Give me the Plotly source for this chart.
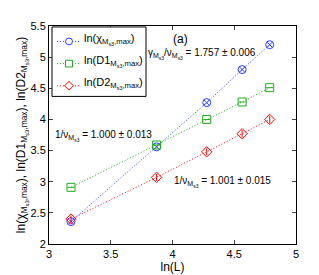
import plotly.graph_objects as go

lnL = [3.178, 3.871, 4.277, 4.564, 4.787]
chi = [2.36, 3.56, 4.27, 4.80, 5.20]
d1 = [2.91, 3.59, 4.00, 4.28, 4.51]
d2 = [2.40, 3.07, 3.48, 3.77, 4.00]

names = ["ln(χ<sub>M<sub>s3</sub>,max</sub>)",
         "ln(D1<sub>M<sub>s3</sub>,max</sub>)",
         "ln(D2<sub>M<sub>s3</sub>,max</sub>)"]
colors = ["rgb(40,60,255)", "rgb(30,170,30)", "rgb(255,0,0)"]
symbols = ["circle-open", "square-open", "diamond-open"]
inners = ["x-thin-open", "line-ew-open", "line-ns-open"]
values = [chi, d1, d2]

W, H = 319, 275
ML, MR, MT, MB = 41, 31, 16, 33
PW, PH = W - ML - MR, H - MT - MB

fig = go.Figure()
for name, ys, col, sym, inner in zip(names, values, colors, symbols, inners):
    fig.add_trace(go.Scatter(x=lnL, y=ys, mode="lines+markers", name=name, showlegend=False,
                             line=dict(color=col, width=1, dash="1px,2px"),
                             marker=dict(symbol=sym, size=8, color=col, line=dict(width=1, color=col))))
    fig.add_trace(go.Scatter(x=lnL, y=ys, mode="markers", showlegend=False, hoverinfo="skip",
                             marker=dict(symbol=inner, size=5, color=col, line=dict(width=1, color=col))))

# manual legend (pixel positions converted to paper coords)
def px(xp):
    return (xp - ML) / PW
def py(yp):
    return (H - MB - yp) / PH

fig.add_shape(type="rect", xref="paper", yref="paper", x0=px(44), x1=px(138), y0=py(89), y1=py(17),
              line=dict(color="black", width=1), fillcolor="white", layer="above")
leg_y = [32, 55, 78]
r = 3.5
for i, (name, col) in enumerate(zip(names, colors)):
    yc = leg_y[i]
    fig.add_shape(type="line", xref="paper", yref="paper", x0=px(49), x1=px(73), y0=py(yc), y1=py(yc),
                  line=dict(color=col, width=1, dash="1px,2px"), layer="above")
    if i == 0:
        fig.add_shape(type="circle", xref="paper", yref="paper", x0=px(61 - r), x1=px(61 + r),
                      y0=py(yc + r), y1=py(yc - r), line=dict(color=col, width=1), fillcolor="white", layer="above")
    elif i == 1:
        fig.add_shape(type="rect", xref="paper", yref="paper", x0=px(61 - r), x1=px(61 + r),
                      y0=py(yc + r), y1=py(yc - r), line=dict(color=col, width=1), fillcolor="white", layer="above")
    else:
        d = 4.5
        path = (f"M {px(61 - d)} {py(yc)} L {px(61)} {py(yc - d)} L {px(61 + d)} {py(yc)} "
                f"L {px(61)} {py(yc + d)} Z")
        fig.add_shape(type="path", xref="paper", yref="paper", path=path,
                      line=dict(color=col, width=1), fillcolor="white", layer="above")
    fig.add_annotation(x=px(74), y=py(yc - 2), xref="paper", yref="paper", text=name, showarrow=False,
                       xanchor="left", yanchor="middle",
                       font=dict(family="Liberation Sans, Arial, sans-serif", size=11, color="black"))

font = dict(family="Liberation Sans, Arial, sans-serif", size=11, color="black")
fig.update_layout(
    width=W, height=H,
    margin=dict(l=ML, r=MR, t=MT, b=MB),
    paper_bgcolor="white", plot_bgcolor="white",
    font=font,
    showlegend=False,
    xaxis=dict(range=[3, 5], dtick=0.5, ticks="inside", ticklen=4, showgrid=False,
               zeroline=False, showline=True, linecolor="black", linewidth=1, mirror="ticks",
               title=dict(text="ln(L)", standoff=2, font=dict(size=12)), tickfont=dict(size=11)),
    yaxis=dict(range=[2, 5.5], dtick=0.5, ticks="inside", ticklen=4, showgrid=False,
               zeroline=False, showline=True, linecolor="black", linewidth=1, mirror="ticks",
               title=dict(text="ln(χ<sub>M<sub>s3</sub>,max</sub>), ln(D1<sub>M<sub>s3</sub>,max</sub>), ln(D2<sub>M<sub>s3</sub>,max</sub>)",
                          standoff=2, font=dict(size=12)),
               tickfont=dict(size=11)),
)

ann_font = dict(family="Liberation Sans, Arial, sans-serif", size=10, color="black")
fig.add_annotation(x=px(163), y=py(29), xref="paper", yref="paper", text="(a)", showarrow=False,
                   xanchor="left", yanchor="middle", font=dict(family="Liberation Sans, Arial, sans-serif", size=12))
fig.add_annotation(x=px(138), y=py(45), xref="paper", yref="paper",
                   text="γ<sub>M<sub>s3</sub></sub>/ν<sub>M<sub>s3</sub></sub> = 1.757 ± 0.006",
                   showarrow=False, xanchor="left", yanchor="middle", font=ann_font)
fig.add_annotation(x=px(45), y=py(130), xref="paper", yref="paper",
                   text="1/ν<sub>M<sub>s3</sub></sub> = 1.000 ± 0.013",
                   showarrow=False, xanchor="left", yanchor="middle", font=ann_font)
fig.add_annotation(x=px(164), y=py(178), xref="paper", yref="paper",
                   text="1/ν<sub>M<sub>s3</sub></sub> = 1.001 ± 0.015",
                   showarrow=False, xanchor="left", yanchor="middle", font=ann_font)

fig.write_html("out.html")
